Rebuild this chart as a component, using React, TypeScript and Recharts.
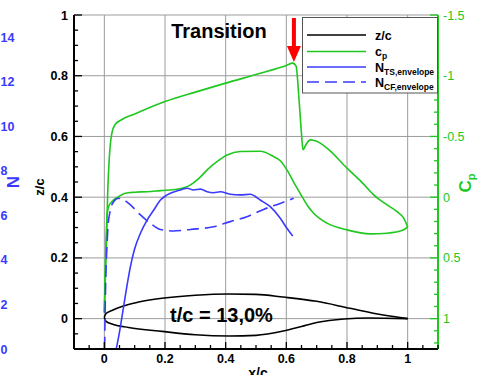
import React from 'react';
import { ComposedChart, Line, XAxis, YAxis, CartesianGrid, ReferenceLine } from 'recharts';

const W = 487;
const H = 375;
const PLOT_L = 74;
const PLOT_R = 438;
const PLOT_T = 15;
const PLOT_B = 349;

const GREEN = '#1ec81e';
const BLUE = '#3a3aff';
const GRID = '#9c9c9c';
const FONT = '"Liberation Sans", Arial, Helvetica, sans-serif';

// Airfoil contour z/c
const upperX = [0, 0.005, 0.025, 0.06, 0.11, 0.19, 0.3, 0.41, 0.5, 0.59, 0.7, 0.81, 0.92, 1.0];
const upperZ = [0.005, 0.016, 0.027, 0.041, 0.054, 0.067, 0.077, 0.081, 0.08, 0.071, 0.057, 0.034, 0.012, 0.0];
const lowerX = [0, 0.005, 0.025, 0.08, 0.19, 0.3, 0.41, 0.5, 0.59, 0.65, 0.7, 0.79, 0.87, 1.0];
const lowerZ = [0.005, -0.008, -0.018, -0.029, -0.042, -0.053, -0.057, -0.055, -0.041, -0.026, -0.013, -0.001, 0.002, 0.0];

// Pressure coefficient, upper side
const cpUpperX = [0, 0.003, 0.007, 0.011, 0.016, 0.02, 0.025, 0.036, 0.058, 0.1, 0.2, 0.3, 0.4, 0.514, 0.6, 0.621,
  0.632, 0.642, 0.65, 0.655, 0.664, 0.679, 0.7, 0.734, 0.8, 0.85, 0.888, 0.93, 0.965, 0.987, 1.0];
const cpUpper = [0.95, 0.7, 0.38, -0.03, -0.31, -0.44, -0.53, -0.6, -0.64, -0.685, -0.787, -0.865, -0.939, -1.02, -1.085, -1.104,
  -1.08, -0.8, -0.52, -0.39, -0.43, -0.472, -0.46, -0.404, -0.239, -0.12, -0.019, 0.06, 0.119, 0.173, 0.245];

// Pressure coefficient, lower side
const cpLowerX = [0, 0.004, 0.009, 0.014, 0.025, 0.047, 0.069, 0.1, 0.141, 0.185, 0.24, 0.284, 0.31, 0.339, 0.37, 0.405,
  0.448, 0.514, 0.558, 0.58, 0.602, 0.625, 0.646, 0.67, 0.69, 0.734, 0.8, 0.877, 0.932, 0.987, 1.0];
const cpLower = [0.95, 0.5, 0.15, 0.077, 0.036, -0.005, -0.033, -0.041, -0.045, -0.054, -0.065, -0.101, -0.15, -0.225, -0.29, -0.348,
  -0.376, -0.378, -0.334, -0.3, -0.225, -0.12, -0.03, 0.07, 0.132, 0.214, 0.269, 0.302, 0.297, 0.269, 0.245];

// N factor envelopes
const nTsX = [0.02, 0.038, 0.045, 0.06, 0.075, 0.086, 0.1, 0.119, 0.141, 0.163, 0.185, 0.207, 0.251, 0.273, 0.294, 0.317,
  0.339, 0.36, 0.382, 0.415, 0.448, 0.481, 0.514, 0.547, 0.58, 0.602, 0.621];
const nTs = [0, 0, 0.4, 1.6, 2.87, 3.7, 4.5, 5.2, 5.79, 6.24, 6.69, 6.92, 7.14, 7.22, 7.14, 7.18,
  7.06, 7.02, 7.06, 6.95, 6.92, 6.95, 6.69, 6.39, 5.87, 5.42, 5.07];
const nCfX = [0.001, 0.003, 0.005, 0.009, 0.012, 0.02, 0.031, 0.047, 0.058, 0.086, 0.119, 0.152, 0.185, 0.228, 0.284, 0.36,
  0.415, 0.47, 0.525, 0.58, 0.624];
const nCf = [0, 2, 3.3, 4.7, 5.5, 6.24, 6.62, 6.77, 6.74, 6.47, 6.02, 5.64, 5.37, 5.3, 5.37, 5.49,
  5.72, 5.94, 6.27, 6.54, 6.77];

// Transition location
const transitionX = 0.625;

// Axis ticks
const X_MAJOR = [0, 0.2, 0.4, 0.6, 0.8, 1];
const Z_MAJOR = [0, 0.2, 0.4, 0.6, 0.8, 1];
const CP_MAJOR = [-1.5, -1, -0.5, 0, 0.5, 1];
const N_TICKS = [0, 2, 4, 6, 8, 10, 12, 14];

const range = (a: number, b: number, step: number) => {
  const out: number[] = [];
  for (let v = a; v <= b + 1e-9; v += step) out.push(Math.round(v * 1000) / 1000);
  return out;
};
const X_TICKS = range(-0.1, 1.1, 0.05);
const Z_TICKS = range(-0.1, 1.0, 0.05);
const CP_TICKS = range(-1.5, 1.2, 0.1);

const rows = (xs: number[], ys: number[], key: string) => xs.map((x, i) => ({ x, [key]: ys[i] }));
const isIn = (arr: number[], v: number) => arr.some((m) => Math.abs(m - v) < 1e-6);

const XTick = (p: any) => {
  const v = p.payload.value;
  const major = isIn(X_MAJOR, v);
  const x = p.x;
  return (
    <g>
      <line x1={x} x2={x} y1={PLOT_B} y2={PLOT_B - (major ? 7 : 4)} stroke="#000" strokeWidth={1.3} />
      {major && (
        <text x={x} y={363} textAnchor="middle" fontFamily={FONT} fontWeight="bold" fontSize={12.5} fill="#000">
          {String(v)}
        </text>
      )}
    </g>
  );
};

const ZTick = (p: any) => {
  const v = p.payload.value;
  const major = isIn(Z_MAJOR, v);
  const y = p.y;
  return (
    <g>
      <line x1={PLOT_L} x2={PLOT_L + (major ? 8 : 4)} y1={y} y2={y} stroke="#000" strokeWidth={1.3} />
      {major && (
        <text x={68} y={y + 4.5} textAnchor="end" fontFamily={FONT} fontWeight="bold" fontSize={12.5} fill="#000">
          {String(v)}
        </text>
      )}
    </g>
  );
};

const NTick = (p: any) => (
  <text x={0.5} y={p.y + 4.5} textAnchor="start" fontFamily={FONT} fontWeight="bold" fontSize={12.5} fill={BLUE}>
    {String(p.payload.value)}
  </text>
);

const CpTick = (p: any) => {
  const v = p.payload.value;
  const major = isIn(CP_MAJOR, v);
  const y = p.y;
  return (
    <g>
      <line x1={PLOT_R - (major ? 8 : 4)} x2={PLOT_R} y1={y} y2={y} stroke={GREEN} strokeWidth={1.3} />
      {major && (
        <text x={443} y={y + 4.5} textAnchor="start" fontFamily={FONT} fontSize={12.5} fill={GREEN}>
          {String(v)}
        </text>
      )}
    </g>
  );
};

const Arrow = (p: any) => {
  const { x1, y1, x2, y2 } = p;
  const cx = (x1 + x2) / 2;
  const top = Math.min(y1, y2);
  const tip = Math.max(y1, y2);
  const head = 16;
  return (
    <polygon
      points={`${cx - 2},${top} ${cx + 2},${top} ${cx + 2},${tip - head} ${cx + 7},${tip - head} ${cx},${tip} ${cx - 7},${tip - head} ${cx - 2},${tip - head}`}
      fill="#ff0000"
    />
  );
};

const legendItems = [
  { main: 'z/c', sub: '', color: '#000', dash: undefined as string | undefined, y: 35 },
  { main: 'c', sub: 'p', color: GREEN, dash: undefined, y: 51.5 },
  { main: 'N', sub: 'TS,envelope', color: BLUE, dash: undefined, y: 67 },
  { main: 'N', sub: 'CF,envelope', color: BLUE, dash: '12 6', y: 82 },
];

export default function App() {
  return (
    <div style={{ position: 'absolute', left: 0, top: 0, width: W, height: H, background: '#fff' }}>
      <ComposedChart width={W} height={H} margin={{ top: PLOT_T, right: 0, bottom: 0, left: 0 }}>
        <CartesianGrid yAxisId="airfoil" stroke={GRID} strokeWidth={1} horizontalValues={Z_MAJOR} verticalValues={X_MAJOR} />
        <XAxis
          dataKey="x"
          type="number"
          domain={[-0.1, 1.1]}
          allowDataOverflow
          ticks={X_TICKS}
          interval={0}
          height={H - PLOT_B}
          tickLine={false}
          axisLine={{ stroke: '#000', strokeWidth: 2 }}
          tick={XTick}
        />
        <YAxis
          yAxisId="airfoil"
          type="number"
          domain={[-0.1, 1]}
          allowDataOverflow
          ticks={Z_TICKS}
          interval={0}
          width={44}
          tickLine={false}
          axisLine={{ stroke: '#000', strokeWidth: 2 }}
          tick={ZTick}
        />
        <YAxis
          yAxisId="nfactor"
          type="number"
          domain={[0, 15]}
          allowDataOverflow
          ticks={N_TICKS}
          interval={0}
          width={PLOT_L - 44}
          tickLine={false}
          axisLine={false}
          tick={NTick}
        />
        <YAxis
          yAxisId="pressure"
          orientation="right"
          reversed
          type="number"
          domain={[-1.5, 1.25]}
          allowDataOverflow
          ticks={CP_TICKS}
          interval={0}
          width={W - PLOT_R}
          tickLine={false}
          axisLine={{ stroke: GREEN, strokeWidth: 2 }}
          tick={CpTick}
        />
        <Line yAxisId="airfoil" data={rows(upperX, upperZ, 'z')} dataKey="z" type="monotone" stroke="#000" strokeWidth={1.6} dot={false} isAnimationActive={false} />
        <Line yAxisId="airfoil" data={rows(lowerX, lowerZ, 'z')} dataKey="z" type="monotone" stroke="#000" strokeWidth={1.6} dot={false} isAnimationActive={false} />
        <Line yAxisId="pressure" data={rows(cpUpperX, cpUpper, 'cp')} dataKey="cp" type="monotone" stroke={GREEN} strokeWidth={1.6} dot={false} isAnimationActive={false} />
        <Line yAxisId="pressure" data={rows(cpLowerX, cpLower, 'cp')} dataKey="cp" type="monotone" stroke={GREEN} strokeWidth={1.6} dot={false} isAnimationActive={false} />
        <Line yAxisId="nfactor" data={rows(nTsX, nTs, 'n')} dataKey="n" type="monotone" stroke={BLUE} strokeWidth={1.6} dot={false} isAnimationActive={false} />
        <Line yAxisId="nfactor" data={rows(nCfX, nCf, 'n')} dataKey="n" type="monotone" stroke={BLUE} strokeWidth={1.6} strokeDasharray="12 6" dot={false} isAnimationActive={false} />
        <ReferenceLine
          yAxisId="airfoil"
          segment={[{ x: transitionX, y: 0.99 }, { x: transitionX, y: 0.845 }]}
          shape={Arrow}
        />
      </ComposedChart>
      <svg width={W} height={H} style={{ position: 'absolute', left: 0, top: 0, pointerEvents: 'none' }} fontFamily={FONT}>
        <text x={219} y={38} textAnchor="middle" fontWeight="bold" fontSize={20} fill="#000">Transition</text>
        <text x={170} y={322} textAnchor="start" fontWeight="bold" fontSize={20} fill="#000">t/c = 13,0%</text>
        <text x={258} y={378} textAnchor="middle" fontWeight="bold" fontSize={14} fill="#000">x/c</text>
        <text transform="translate(43.5,187) rotate(-90)" textAnchor="middle" fontWeight="bold" fontSize={13} fill="#000">z/c</text>
        <text transform="translate(18.5,182) rotate(-90)" textAnchor="middle" fontWeight="bold" fontSize={17} fill={BLUE}>N</text>
        <text transform="translate(471,183) rotate(-90)" textAnchor="middle" fontWeight="bold" fontSize={17} fill={GREEN}>
          C<tspan fontSize={11} dy={4}>p</tspan>
        </text>
        <rect x={302.5} y={17.5} width={135} height={75.5} fill="#fff" stroke="#555" strokeWidth={1} />
        {legendItems.map((it, i) => (
          <g key={i}>
            <line x1={307} x2={366} y1={it.y} y2={it.y} stroke={it.color} strokeWidth={1.6} strokeDasharray={it.dash} />
            <text x={375} y={it.y + 4.5} fontWeight="bold" fontSize={12.5} fill="#000">
              {it.main}
              {it.sub && (
                <tspan fontSize={8.5} dy={3}>
                  {it.sub}
                </tspan>
              )}
            </text>
          </g>
        ))}
      </svg>
    </div>
  );
}
